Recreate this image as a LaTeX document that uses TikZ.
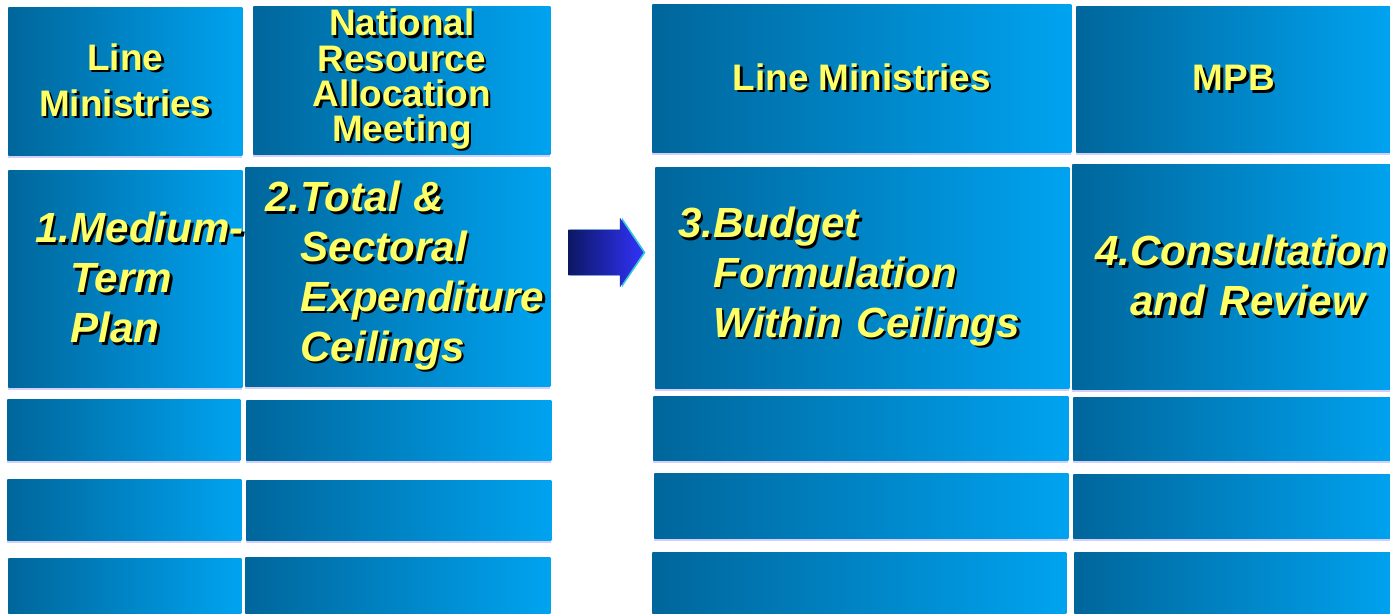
\documentclass[tikz,border=0pt]{standalone}
\usepackage{fontspec}
\setmainfont{Liberation Sans}
\usetikzlibrary{shapes.arrows}
\definecolor{cellDark}{RGB}{0,102,155}
\definecolor{cellLight}{RGB}{0,163,240}
\definecolor{cellShadow}{RGB}{208,208,248}
\definecolor{labelYellow}{RGB}{255,255,102}
\definecolor{arrowNavy}{RGB}{12,24,100}
\definecolor{arrowBlue}{RGB}{50,50,250}
\definecolor{arrowCyan}{RGB}{50,200,215}
\newcommand{\sh}[1]{\mbox{\rlap{\kern1.4pt\raisebox{-1.4pt}{\color{black}#1}}#1}}

\begin{document}
\begin{tikzpicture}
            \tikzstyle{cell} = [rectangle, anchor=north west, inner sep=0pt, left color=cellDark, right color=cellLight, preaction={fill=cellShadow, transform canvas={yshift=-1.6pt}}, text=labelYellow]
            \tikzstyle{head} = [cell, minimum height=2.96cm, align=center, font=\bfseries\fontsize{21}{26}\selectfont]
            \tikzstyle{stepbox} = [cell, align=left, font=\bfseries\itshape\fontsize{24}{28.4}\selectfont]
            \tikzstyle{blank} = [cell, minimum height=1.22cm]
            \tikzstyle{flow} = [single arrow, anchor=tail, inner sep=0pt, text height=0.45cm, text depth=0.45cm, minimum height=1.5cm, single arrow head extend=0.24cm, single arrow tip angle=112, left color=arrowNavy, right color=arrowBlue, preaction={fill=arrowCyan, transform canvas={xshift=1.2pt}}]

            \useasboundingbox (0,0) rectangle (27.8,-12.28);

            % Planning stage
            \node[head, minimum width=4.68cm] (lmLeft) at (0.16,-0.14) {\sh{Line}\\\sh{Ministries}};
            \node[head, minimum width=5.94cm, font=\bfseries\fontsize{21}{20}\selectfont] (nram) at (5.06,-0.12) {\sh{National}\\\sh{Resource}\\\sh{Allocation}\\\sh{Meeting}};
            \node[stepbox, minimum height=4.34cm, text width=3.60cm, inner xsep=0.54cm] (stepOne) at (0.16,-3.40) {\sh{1.Medium-}\\\phantom{1.}\sh{Term}\\\phantom{1.}\sh{Plan}};
            \node[stepbox, minimum height=4.38cm, text width=5.30cm, inner xsep=0.40cm] (stepTwo) at (4.90,-3.34) {\sh{2.Total \&}\\\phantom{2.}\sh{Sectoral}\\\phantom{2.}\sh{Expenditure}\\\phantom{2.}\sh{Ceilings}};
            \node[blank, minimum width=4.66cm] (rowOneA) at (0.14,-7.98) {};
            \node[blank, minimum width=4.68cm] (rowOneB) at (0.14,-9.58) {};
            \node[blank, minimum width=4.66cm, minimum height=1.4cm] (rowOneC) at (0.16,-11.16) {};
            \node[blank, minimum width=6.10cm, minimum height=1.20cm] (rowTwoA) at (4.92,-8.00) {};
            \node[blank, minimum width=6.10cm, minimum height=1.20cm] (rowTwoB) at (4.92,-9.60) {};
            \node[blank, minimum width=6.10cm, minimum height=1.4cm] (rowTwoC) at (4.90,-11.14) {};

            % Arrow
            \node[flow] (flowArrow) at (11.36,-5.05) {};

            % Formulation stage
            \node[head, minimum width=8.38cm] (lmRight) at (13.04,-0.08) {\sh{Line Ministries}};
            \node[head, minimum width=6.30cm, minimum height=2.92cm] (mpb) at (21.52,-0.12) {\sh{MPB}};
            \node[stepbox, minimum height=4.42cm, text width=7.36cm, inner xsep=0.46cm] (stepThree) at (13.10,-3.34) {\sh{3.Budget}\\\phantom{3.}\sh{Formulation}\\\phantom{3.}\sh{Within Ceilings}};
            \node[stepbox, minimum height=4.50cm, text width=5.58cm, inner xsep=0.46cm] (stepFour) at (21.44,-3.28) {\sh{4.Consultation}\\\phantom{4.}\sh{and Review}};
            \node[blank, minimum width=8.30cm, minimum height=1.28cm] (rowThreeA) at (13.06,-7.92) {};
            \node[blank, minimum width=8.28cm, minimum height=1.30cm] (rowThreeB) at (13.08,-9.46) {};
            \node[blank, minimum width=8.28cm, minimum height=1.4cm] (rowThreeC) at (13.04,-11.04) {};
            \node[blank, minimum width=6.50cm, minimum height=1.26cm] (rowFourA) at (21.46,-7.94) {};
            \node[blank, minimum width=6.50cm, minimum height=1.28cm] (rowFourB) at (21.46,-9.48) {};
            \node[blank, minimum width=6.50cm, minimum height=1.4cm] (rowFourC) at (21.48,-11.04) {};
\end{tikzpicture}
\end{document}
